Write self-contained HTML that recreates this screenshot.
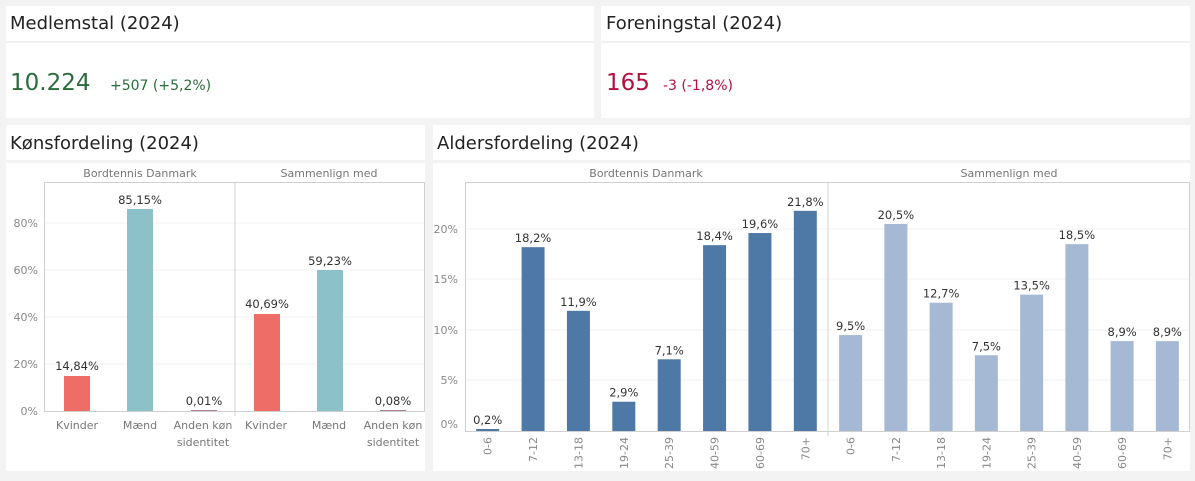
<!DOCTYPE html>
<html><head><meta charset="utf-8"><style>
body{margin:0;width:1195px;height:477px;background:#f3f3f3;font-family:"DejaVu Sans","Liberation Sans",sans-serif;overflow:hidden}
</style></head><body>
<svg width="1195" height="477" xmlns="http://www.w3.org/2000/svg" font-family="DejaVu Sans, Liberation Sans, sans-serif">
<!-- KPI panels -->
<rect x="6" y="6" width="588" height="112" fill="#fff"/>
<rect x="601" y="6" width="589" height="112" fill="#fff"/>
<line x1="6" y1="42" x2="594" y2="42" stroke="#f0f0f0" stroke-width="2"/>
<line x1="601" y1="42" x2="1190" y2="42" stroke="#f0f0f0" stroke-width="2"/>
<text x="10" y="29" font-size="18" fill="#222">Medlemstal (2024)</text>
<text x="606" y="29" font-size="18" fill="#222">Foreningstal (2024)</text>
<text x="10" y="90" font-size="23" fill="#2b6b3b">10.224</text>
<text x="110" y="90" font-size="14" fill="#2b6b3b">+507 (+5,2%)</text>
<text x="606" y="90" font-size="23" fill="#b3103f">165</text>
<text x="663" y="90" font-size="14" fill="#b3103f">-3 (-1,8%)</text>

<!-- Kønsfordeling -->
<rect x="6" y="125" width="419" height="35" fill="#fff"/>
<rect x="6" y="163" width="419" height="308" fill="#fff"/>
<text x="10" y="149" font-size="18" fill="#222">Kønsfordeling (2024)</text>
<text x="140" y="177" font-size="11" fill="#777" text-anchor="middle">Bordtennis Danmark</text>
<text x="329" y="177" font-size="11" fill="#777" text-anchor="middle">Sammenlign med</text>
<g stroke="#f0f0f0">
<line x1="45" y1="364" x2="424" y2="364"/><line x1="45" y1="317" x2="424" y2="317"/>
<line x1="45" y1="270" x2="424" y2="270"/><line x1="45" y1="223" x2="424" y2="223"/>
</g>
<g font-size="11" fill="#888" text-anchor="end">
<text x="38" y="415">0%</text><text x="38" y="368">20%</text><text x="38" y="321">40%</text>
<text x="38" y="274">60%</text><text x="38" y="227">80%</text>
</g>
<rect x="64" y="376" width="26" height="35" fill="#ee6e67"/>
<rect x="127" y="209" width="26" height="202" fill="#8cc1c9"/>
<rect x="191" y="410" width="26" height="1" fill="#b07a9a"/>
<rect x="254" y="314" width="26" height="97" fill="#ee6e67"/>
<rect x="317" y="270" width="26" height="141" fill="#8cc1c9"/>
<rect x="380" y="410" width="26" height="1" fill="#b07a9a"/>
<g font-size="11.5" fill="#333" text-anchor="middle">
<text x="77" y="370">14,84%</text><text x="140" y="204">85,15%</text><text x="204" y="405">0,01%</text>
<text x="267" y="308">40,69%</text><text x="330" y="265">59,23%</text><text x="393" y="405">0,08%</text>
</g>
<g font-size="11" fill="#777" text-anchor="middle">
<text x="77" y="429">Kvinder</text><text x="140" y="429">Mænd</text><text x="203" y="429">Anden køn</text><text x="203" y="446">sidentitet</text>
<text x="266" y="429">Kvinder</text><text x="329" y="429">Mænd</text><text x="393" y="429">Anden køn</text><text x="393" y="446">sidentitet</text>
</g>
<g fill="none" stroke="#d0d0d0">
<rect x="44.5" y="182.5" width="380" height="229"/>
<line x1="235" y1="182" x2="235" y2="416"/>
</g>

<!-- Aldersfordeling -->
<rect x="433" y="125" width="757" height="35" fill="#fff"/>
<rect x="433" y="163" width="757" height="308" fill="#fff"/>
<text x="437" y="149" font-size="18" fill="#222">Aldersfordeling (2024)</text>
<text x="646" y="177" font-size="11" fill="#777" text-anchor="middle">Bordtennis Danmark</text>
<text x="1009" y="177" font-size="11" fill="#777" text-anchor="middle">Sammenlign med</text>
<g stroke="#f0f0f0">
<line x1="465" y1="380" x2="1190" y2="380"/><line x1="465" y1="330" x2="1190" y2="330"/>
<line x1="465" y1="279" x2="1190" y2="279"/><line x1="465" y1="229" x2="1190" y2="229"/>
</g>
<g font-size="11" fill="#888" text-anchor="end">
<text x="458" y="428">0%</text><text x="458" y="384">5%</text><text x="458" y="334">10%</text>
<text x="458" y="283">15%</text><text x="458" y="233">20%</text>
</g>
<g id="bars"></g>
<g fill="none" stroke="#d0d0d0">
<rect x="465.5" y="182.5" width="724" height="249"/>
<line x1="828" y1="182" x2="828" y2="436"/>
</g>
<script>
(function(){
var ns="http://www.w3.org/2000/svg",g=document.getElementById("bars");
var labs=["0-6","7-12","13-18","19-24","25-39","40-59","60-69","70+"];
var a=[0.2,18.2,11.9,2.9,7.1,18.4,19.6,21.8],b=[9.5,20.5,12.7,7.5,13.5,18.5,8.9,8.9];
function el(t,at,txt){var e=document.createElementNS(ns,t);for(var k in at)e.setAttribute(k,at[k]);if(txt)e.textContent=txt;g.appendChild(e);}
function pane(x0,w,vals,col){var s=w/8;for(var i=0;i<8;i++){var c=x0+s*(i+0.5),h=vals[i]*10.1;
el("rect",{x:c-11.5,y:431-h,width:23,height:Math.max(h,1),fill:col});
el("text",{x:c,y:426-h,"font-size":"11.5",fill:"#333","text-anchor":"middle"},vals[i].toFixed(1).replace(".",",")+"%");
el("text",{x:0,y:0,"font-size":"11",fill:"#888","text-anchor":"end",transform:"translate("+(c+4)+",437) rotate(-90)"},labs[i]);}}
pane(465,363,a,"#4e79a7");pane(828,362,b,"#a6b9d4");
})();
</script>
</svg>
</body></html>
